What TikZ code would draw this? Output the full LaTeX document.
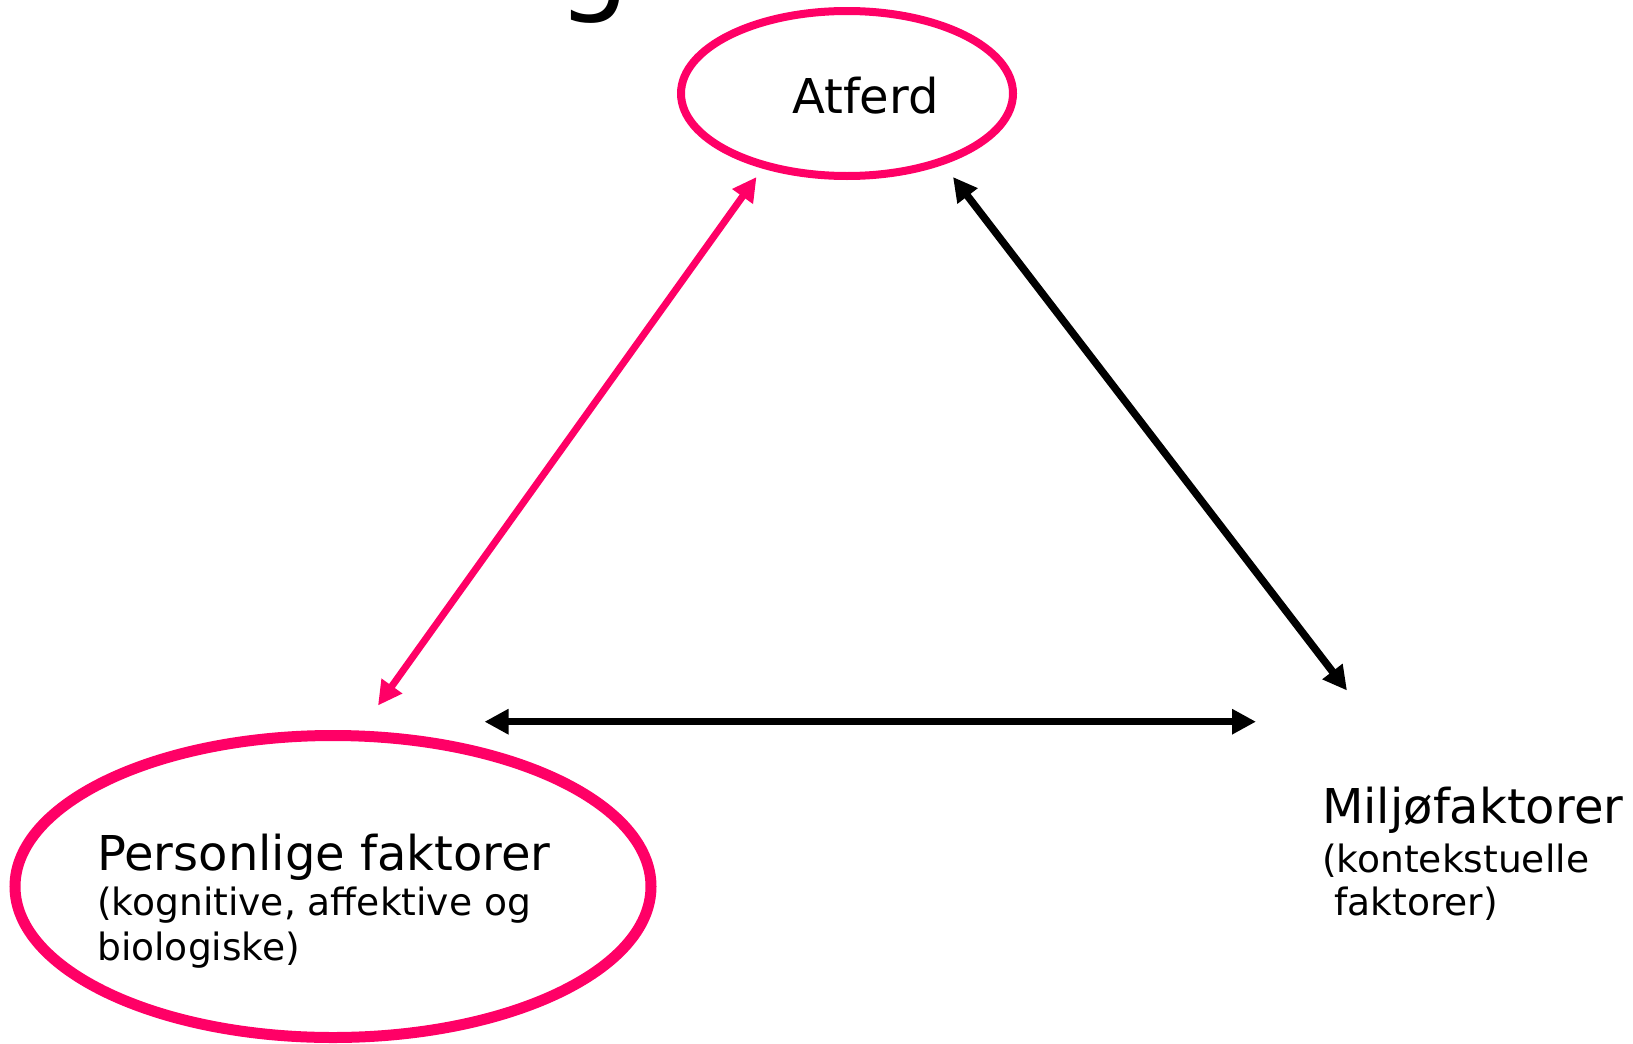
\documentclass[tikz,border=0pt]{standalone}
\usepackage{fontspec}
\setmainfont{DejaVu Sans}
\usetikzlibrary{arrows.meta,shapes.geometric}
\definecolor{pinkred}{RGB}{255,0,102}
\tikzset{
  ovalbox/.style={ellipse, draw=pinkred, inner sep=0pt},
  bigtext/.style={inner sep=0pt, anchor=base west, align=left, font=\fontsize{37.6}{45}\selectfont},
  pinkarrow/.style={draw=pinkred, line width=7pt, {Triangle[length=24pt,width=24pt,fill=pinkred]}-{Triangle[length=24pt,width=24pt,fill=pinkred]}},
  blackarrow/.style={draw=black, line width=7.5pt, {Triangle[length=24pt,width=24pt]}-{Triangle[length=24pt,width=24pt]}}
}
\begin{document}
\begin{tikzpicture}[x=1pt,y=-1pt]
\useasboundingbox (0,0) rectangle (1633,1044);
\clip (0,0) rectangle (1633,1044);
% partial title letter at the top edge
\node[inner sep=0pt, anchor=base west, font=\fontsize{115}{120}\selectfont] (title) at (557,0) {g};
% ellipses
\node[ovalbox, line width=8pt, minimum width=332pt, minimum height=165pt] (atferd) at (847,93.5) {};
\node[ovalbox, line width=11pt, minimum width=636pt, minimum height=302pt] (person) at (333,886.5) {};
% texts (base anchor = baseline of the last line)
\node[inner sep=0pt, anchor=base west, font=\fontsize{48}{48}\selectfont] (atferdtxt) at (792,113) {Atferd};
\node[bigtext] (persontxt) at (97,960) {{\fontsize{48}{45}\selectfont Personlige faktorer}\\(kognitive, affektive og\\biologiske)};
\node[bigtext] (miljotxt) at (1322,915) {{\fontsize{48}{45}\selectfont Miljøfaktorer}\\[4pt](kontekstuelle\\[-2pt]\hspace*{12pt}faktorer)};
% arrow end points
\coordinate (pA) at (378,705.5);
\coordinate (pB) at (756.5,177);
\coordinate (bA) at (953,177);
\coordinate (bB) at (1347,690.5);
\coordinate (hA) at (484.5,721.7);
\coordinate (hB) at (1256,721.7);
% connectors
\draw[pinkarrow] (pA) -- (pB);
\draw[blackarrow] (bA) -- (bB);
\draw[blackarrow] (hA) -- (hB);
\end{tikzpicture}
\end{document}
